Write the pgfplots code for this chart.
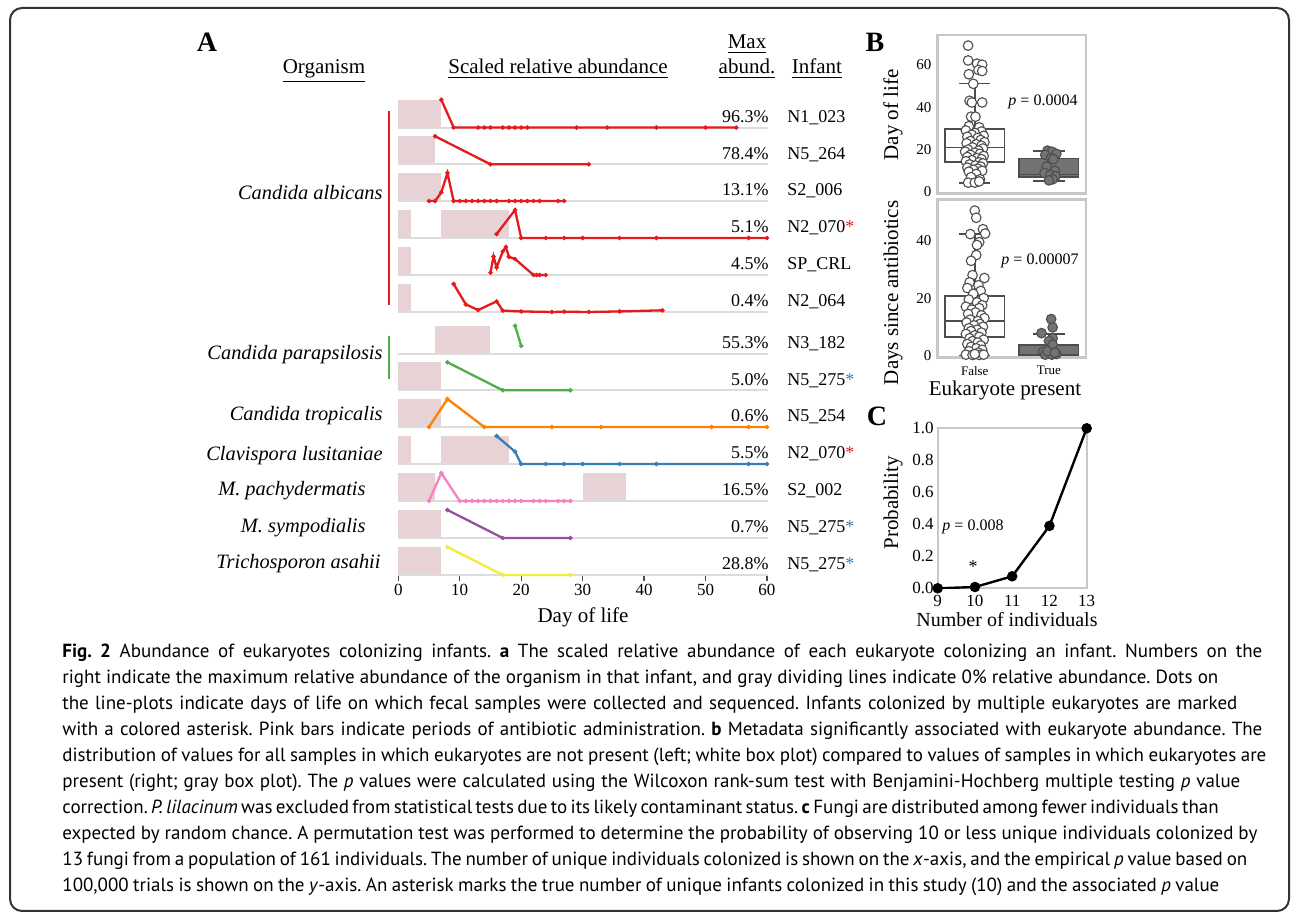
\documentclass[border=0pt]{standalone}
\usepackage{fontspec}
\setmainfont{Liberation Serif}
\newfontfamily\capfont{PT Sans}
\usepackage{pgfplots}
\pgfplotsset{compat=1.18}
\usepgfplotslibrary{statistics}

\definecolor{cred}{HTML}{E41A1C}
\definecolor{cgreen}{HTML}{4DAF4A}
\definecolor{cblue}{HTML}{377EB8}
\definecolor{corange}{HTML}{FF7F00}
\definecolor{cpink}{HTML}{F781BF}
\definecolor{cpurple}{HTML}{984EA3}
\definecolor{cyellow}{HTML}{F2EC3A}
\definecolor{abxcol}{HTML}{E7D3D5}
\definecolor{zline}{HTML}{DCDCDC}
\definecolor{framegray}{HTML}{C8C8C8}
\definecolor{boxedge}{HTML}{4D4D4D}
\definecolor{boxfill}{HTML}{737373}

\newcommand\capline[2]{\makebox[#1][s]{#2}}

\pgfplotsset{
  rowax/.style={scale only axis, width=184.35pt, height=14pt, anchor=south west,
    xmin=0, xmax=60, ymin=0, ymax=1, clip=false},
  antib/.style={fill=abxcol, draw=none},
  zero/.style={draw=zline, line width=0.9pt},
  ln/.style={draw=#1, line width=1.15pt, mark=*, mark size=0.95pt,
    mark options={fill=#1, draw=#1, line width=0.4pt}},
  bax/.style={scale only axis, width=74.15pt, height=79.15pt, anchor=south west,
    xmin=-0.5, xmax=1.5, axis line style={draw=framegray, line width=1.3pt},
    major tick length=0pt, tick style={draw=none},
    tick label style={font=\fontsize{7.5}{9}\selectfont},
    yticklabel style={inner sep=0pt, xshift=-3pt},
    /pgf/number format/assume math mode=true, clip=false},
  wpts/.style={only marks, mark=*, mark size=2.4pt,
    mark options={fill=white, draw=boxedge, line width=0.55pt}},
  gpts/.style={only marks, mark=*, mark size=2.4pt,
    mark options={fill=boxfill, draw=boxedge, line width=0.55pt}},
}

\begin{document}
\begin{tikzpicture}

% ---------------- panel A: one axis per infant row ----------------
\begin{axis}[rowax, hide axis, at={(199.15pt,-63.85pt)}]
\addplot[antib] coordinates {(0,0)(0,1)(7,1)(7,0)};
\addplot[zero] coordinates {(0,0)(60.2,0)};
\addplot[ln=cred] coordinates {(7,1)(9,0.01)(13,0.005)(14,0.005)(15,0.005)(17,0.005)(18,0.005)(19,0.005)(20,0.005)(21,0.005)(29,0.005)(34,0.005)(42,0.005)(50,0.005)(55,0.005)};
\end{axis}

\begin{axis}[rowax, hide axis, at={(199.15pt,-82.15pt)}]
\addplot[antib] coordinates {(0,0)(0,1)(6,1)(6,0)};
\addplot[zero] coordinates {(0,0)(60.2,0)};
\addplot[ln=cred] coordinates {(6,1)(15,0)(31,0)};
\end{axis}

\begin{axis}[rowax, hide axis, at={(199.15pt,-100.5pt)}]
\addplot[antib] coordinates {(0,0)(0,1)(7,1)(7,0)};
\addplot[zero] coordinates {(0,0)(60.2,0)};
\addplot[ln=cred] coordinates {(5,0)(6,0)(7,0.31)(8,1)(9,0)(10,0)(11,0)(12,0)(13,0)(14,0)(15,0)(16,0)(18,0)(19,0)(20,0)(21,0)(22,0)(23,0)(26,0)(27,0)};
\end{axis}

\begin{axis}[rowax, hide axis, at={(199.15pt,-119pt)}]
\addplot[antib] coordinates {(0,0)(0,1)(2,1)(2,0)};
\addplot[antib] coordinates {(7,0)(7,1)(18,1)(18,0)};
\addplot[zero] coordinates {(0,0)(60.2,0)};
\addplot[ln=cred] coordinates {(16,0.14)(19,1)(20,0)(24,0)(27,0)(30,0)(36,0)(42,0)(57,0)(60,0)};
\end{axis}

\begin{axis}[rowax, hide axis, at={(199.15pt,-137.5pt)}]
\addplot[antib] coordinates {(0,0)(0,1)(2,1)(2,0)};
\addplot[zero] coordinates {(0,0)(60.2,0)};
\addplot[ln=cred] coordinates {(15,0.08)(15.5,0.66)(16,0.27)(17,0.84)(17.5,1)(18,0.65)(19,0.57)(22,0)(22.5,0)(23,0)(24,0)};
\end{axis}

\begin{axis}[rowax, hide axis, at={(199.15pt,-156pt)}]
\addplot[antib] coordinates {(0,0)(0,1)(2,1)(2,0)};
\addplot[zero] coordinates {(0,0)(60.2,0)};
\addplot[ln=cred] coordinates {(9,1)(11,0.27)(13,0.07)(16,0.38)(17,0.05)(20,0.02)(25,0)(27,0.01)(31,0)(36,0.02)(43,0.06)};
\end{axis}

\begin{axis}[rowax, hide axis, at={(199.15pt,-176.85pt)}]
\addplot[antib] coordinates {(6,0)(6,1)(15,1)(15,0)};
\addplot[zero] coordinates {(0,0)(60.2,0)};
\addplot[ln=cgreen] coordinates {(19,1)(20,0.28)};
\end{axis}

\begin{axis}[rowax, hide axis, at={(199.15pt,-195.15pt)}]
\addplot[antib] coordinates {(0,0)(0,1)(7,1)(7,0)};
\addplot[zero] coordinates {(0,0)(60.2,0)};
\addplot[ln=cgreen] coordinates {(8,1)(17,0)(28,0)};
\end{axis}

\begin{axis}[rowax, hide axis, at={(199.15pt,-213.5pt)}]
\addplot[antib] coordinates {(0,0)(0,1)(7,1)(7,0)};
\addplot[zero] coordinates {(0,0)(60.2,0)};
\addplot[ln=corange] coordinates {(5,0)(8,1)(14,0)(25,0)(33,0)(51,0)(57,0)(60,0)};
\end{axis}

\begin{axis}[rowax, hide axis, at={(199.15pt,-232pt)}]
\addplot[antib] coordinates {(0,0)(0,1)(2,1)(2,0)};
\addplot[antib] coordinates {(7,0)(7,1)(18,1)(18,0)};
\addplot[zero] coordinates {(0,0)(60.2,0)};
\addplot[ln=cblue] coordinates {(16,1)(19,0.44)(20,0)(24,0)(27,0)(30,0)(36,0)(42,0)(57,0)(60,0)};
\end{axis}

\begin{axis}[rowax, hide axis, at={(199.15pt,-250.5pt)}]
\addplot[antib] coordinates {(0,0)(0,1)(6,1)(6,0)};
\addplot[antib] coordinates {(30,0)(30,1)(37,1)(37,0)};
\addplot[zero] coordinates {(0,0)(60.2,0)};
\addplot[ln=cpink] coordinates {(5,0)(7,1)(10,0)(11,0)(12,0)(13,0)(14,0)(15,0)(16,0)(17,0)(18,0)(19,0)(20,0)(22,0)(23,0)(24,0)(26,0)(27,0)(28,0)};
\end{axis}

\begin{axis}[rowax, hide axis, at={(199.15pt,-269pt)}]
\addplot[antib] coordinates {(0,0)(0,1)(7,1)(7,0)};
\addplot[zero] coordinates {(0,0)(60.2,0)};
\addplot[ln=cpurple] coordinates {(8,1)(17,0)(28,0)};
\end{axis}

\begin{axis}[rowax, at={(199.15pt,-287.5pt)},
  hide y axis, axis x line*=bottom, x axis line style={draw=none, -},
  xtick={0,10,20,30,40,50,60}, tick align=outside, major tick length=3pt,
  xtick style={draw=black!70, line width=0.6pt},
  xticklabel style={font=\fontsize{8.5}{10}\selectfont, inner sep=1.5pt},
  /pgf/number format/assume math mode=true]
\addplot[antib] coordinates {(0,0)(0,1)(7,1)(7,0)};
\addplot[zero] coordinates {(0,0)(60.2,0)};
\addplot[ln=cyellow] coordinates {(8,1)(17,0)(28,0)};
\end{axis}

% ---------------- panel B ----------------
\begin{axis}[bax, at={(468.85pt,-96.65pt)}, ymin=-0.6, ymax=74,
  ytick={0,20,40,60}, xtick=\empty]
\addplot[boxplot prepared={draw direction=y, lower whisker=4.4, lower quartile=14.3,
  median=21, upper quartile=29.6, upper whisker=51.1, draw position=0,
  box extend=0.8, whisker extend=0.42}, draw=boxedge, fill=white, line width=0.9pt] coordinates {};
\addplot[boxplot prepared={draw direction=y, lower whisker=5.3, lower quartile=7.2,
  median=8.3, upper quartile=15.8, upper whisker=19.4, draw position=1,
  box extend=0.8, whisker extend=0.42}, draw=boxedge, fill=boxfill, line width=0.9pt] coordinates {};
\addplot[wpts] coordinates {
(-0.09,69)(-0.09,62)(0.03,60.5)(0.10,60)(0.05,57.5)(-0.08,55.5)(0.10,57)(-0.02,51)
(-0.07,43)(-0.04,42.2)(0.10,42.2)(-0.05,35.5)(0.01,35.5)
(-0.08,31)(0.06,30.5)(-0.12,29)(0.09,28.5)(0.0,27.8)(-0.04,27)(0.12,26.5)(-0.10,26)
(0.04,25.5)(0.08,24.5)(-0.06,24)(0.13,23.5)(-0.11,23)(0.02,22.5)(0.09,21.8)(-0.03,21)
(0.11,20.5)(-0.09,20)(0.05,19.5)(-0.13,19)(0.0,18.5)(0.07,18)(-0.06,17.5)(0.12,17)
(-0.10,16.5)(0.03,16)(0.09,15.5)(-0.04,15)(-0.12,14.5)(0.06,14)(0.11,13.5)(-0.07,13)
(0.01,12.5)(0.08,12)(-0.10,11.5)(0.04,11)(-0.02,10.5)(0.10,10)(-0.08,9.6)(0.02,8.5)
(-0.05,7)(0.07,6)(-0.09,4.4)(0.0,4.4)(0.06,5)};
\addplot[gpts] coordinates {
(0.98,19.5)(1.04,19)(1.10,18)(0.95,17.5)(1.03,16)(1.06,15.5)(0.97,12)(1.08,10)
(0.94,9)(1.02,8)(1.09,7.5)(1.05,6)(1.0,5.5)};
\end{axis}

\begin{axis}[bax, at={(468.85pt,-178.85pt)}, ymin=-0.76, ymax=54.4,
  ytick={0,20,40}, xtick={0,1}, xticklabels={False,True},
  xticklabel style={font=\fontsize{6.5}{8}\selectfont, inner sep=0pt, yshift=-4pt}]
\addplot[boxplot prepared={draw direction=y, lower whisker=0, lower quartile=6.5,
  median=12.1, upper quartile=20.7, upper whisker=42.3, draw position=0,
  box extend=0.8, whisker extend=0.42}, draw=boxedge, fill=white, line width=0.9pt] coordinates {};
\addplot[boxplot prepared={draw direction=y, lower whisker=0, lower quartile=0,
  median=0.1, upper quartile=3.7, upper whisker=7.4, draw position=1,
  box extend=0.8, whisker extend=0.42}, draw=boxedge, fill=boxfill, line width=0.9pt] coordinates {};
\addplot[wpts] coordinates {
(0.0,50.5)(0.02,48)(0.11,44)(0.14,42.5)(-0.06,42.3)(0.06,39.5)(0.03,38.5)(0.02,35)
(-0.05,33)(-0.03,28)(0.13,27)(-0.07,25.5)(0.05,24.5)(-0.10,23.5)(0.08,22.5)(-0.02,21.5)
(0.12,20)(-0.08,19.5)(0.03,18.5)(0.10,17.5)(-0.12,17)(0.06,16.5)(-0.04,16)(0.01,15)
(-0.09,14.5)(0.09,14)(0.13,13)(-0.06,12.5)(0.04,12)(-0.11,11.5)(0.07,11)(-0.01,10.5)
(0.11,10)(-0.08,9.5)(0.03,9)(-0.05,8.5)(0.09,8)(-0.12,7.5)(0.0,7)(0.06,6.5)(-0.07,6)
(0.12,5.5)(-0.03,5)(0.04,4.5)(-0.10,4)(0.08,3.5)(-0.05,3)(0.02,2.5)(0.10,2)(-0.08,1.5)
(0.05,1)(-0.12,0.3)(-0.03,0.2)(0.06,0.2)(0.12,0.3)(0.0,0.5)};
\addplot[gpts] coordinates {
(1.03,12.7)(1.05,9.8)(0.90,7.8)(1.05,6)(1.0,5)(1.05,3.8)(0.92,1.2)(0.95,0.3)(1.04,0.3)
(1.10,0.5)(0.98,1.5)(1.08,1.0)};
\end{axis}

% ---------------- panel C ----------------
\begin{axis}[scale only axis, width=74.5pt, height=80pt, anchor=south west,
  at={(468.85pt,-294.15pt)}, xmin=9, xmax=13, ymin=0, ymax=1,
  xtick={9,10,11,12,13}, ytick={0,0.2,0.4,0.6,0.8,1},
  axis line style={draw=framegray, line width=1.1pt},
  major tick length=0pt, tick style={draw=none},
  tick label style={font=\fontsize{8.5}{10}\selectfont},
  /pgf/number format/assume math mode=true,
  y tick label style={/pgf/number format/fixed, /pgf/number format/fixed zerofill,
    /pgf/number format/precision=1, inner sep=0pt, xshift=-1.8pt},
  x tick label style={inner sep=0pt, yshift=-3.2pt}]
\addplot[black, line width=1.2pt, mark=*, mark size=2pt] coordinates {(9,0)(10,0.008)(11,0.075)(12,0.39)(13,1)};
\end{axis}

% ---------------- texts (pixel coordinates) ----------------
\begin{scope}[x=0.5pt, y=-0.5pt, every node/.style={inner sep=0pt}]
\draw[line width=1pt, draw=black!80, rounded corners=6pt] (10,8) rectangle (1289,911);

\node[font=\bfseries\fontsize{14}{14}\selectfont] at (207,42) {A};
\node[font=\bfseries\fontsize{14}{14}\selectfont] at (875,42) {B};
\node[font=\bfseries\fontsize{14}{14}\selectfont] at (877,416) {C};

\begin{scope}[every node/.append style={font=\fontsize{10.5}{12}\selectfont, anchor=base}]
\node at (324,74) {\underline{Organism}};
\node at (558,74) {\underline{Scaled relative abundance}};
\node at (747,49) {\underline{Max}};
\node at (747,74) {\underline{abund.}};
\node at (817,74) {\underline{Infant}};
\end{scope}

\begin{scope}[every node/.append style={font=\itshape\fontsize{10.2}{12}\selectfont, anchor=base east}]
\node at (383,200) {Candida albicans};
\node at (383,360) {Candida parapsilosis};
\node at (383,421) {Candida tropicalis};
\node at (383,461) {Clavispora lusitaniae};
\node at (366,496) {M. pachydermatis};
\node at (366,533) {M. sympodialis};
\node at (381,569) {Trichosporon asahii};
\end{scope}

\draw[cred, line width=1pt] (389,111) -- (389,305);
\draw[cgreen, line width=1pt] (389,336) -- (389,379);

\begin{scope}[every node/.append style={font=\fontsize{9}{11}\selectfont}]
\node[anchor=base east] at (769,122.7) {96.3\%};
\node[anchor=base east] at (769,159.3) {78.4\%};
\node[anchor=base east] at (769,196) {13.1\%};
\node[anchor=base east] at (769,233) {5.1\%};
\node[anchor=base east] at (769,270) {4.5\%};
\node[anchor=base east] at (769,307) {0.4\%};
\node[anchor=base east] at (769,348.7) {55.3\%};
\node[anchor=base east] at (769,385.3) {5.0\%};
\node[anchor=base east] at (769,422) {0.6\%};
\node[anchor=base east] at (769,459) {5.5\%};
\node[anchor=base east] at (769,496) {16.5\%};
\node[anchor=base east] at (769,533) {0.7\%};
\node[anchor=base east] at (769,570) {28.8\%};
\node[anchor=base west] at (787,122.7) {N1\_023};
\node[anchor=base west] at (787,159.3) {N5\_264};
\node[anchor=base west] at (787,196) {S2\_006};
\node[anchor=base west] at (787,233) {N2\_070\textcolor{cred}{*}};
\node[anchor=base west] at (787,270) {SP\_CRL};
\node[anchor=base west] at (787,307) {N2\_064};
\node[anchor=base west] at (787,348.7) {N3\_182};
\node[anchor=base west] at (787,385.3) {N5\_275\textcolor{cblue}{*}};
\node[anchor=base west] at (787,422) {N5\_254};
\node[anchor=base west] at (787,459) {N2\_070\textcolor{cred}{*}};
\node[anchor=base west] at (787,496) {S2\_002};
\node[anchor=base west] at (787,533) {N5\_275\textcolor{cblue}{*}};
\node[anchor=base west] at (787,570) {N5\_275\textcolor{cblue}{*}};
\end{scope}

\node[font=\fontsize{10.5}{12}\selectfont] at (583,617) {Day of life};
\node[font=\fontsize{10.5}{12}\selectfont, rotate=90] at (893,115) {Day of life};
\node[font=\fontsize{10.5}{12}\selectfont, rotate=90] at (893,293) {Days since antibiotics};
\node[font=\fontsize{10.5}{12}\selectfont] at (1005,390) {Eukaryote present};
\node[font=\fontsize{10.5}{12}\selectfont, rotate=90] at (893,503) {Probability};
\node[font=\fontsize{10}{12}\selectfont] at (1007,620) {Number of individuals};
\node[font=\fontsize{8}{10}\selectfont] at (1043,102) {\textit{p} = 0.0004};
\node[font=\fontsize{8}{10}\selectfont] at (1040,261) {\textit{p} = 0.00007};
\node[font=\fontsize{8}{10}\selectfont] at (973,527) {\textit{p} = 0.008};
\node[font=\fontsize{9}{10}\selectfont] at (973,567) {*};

\begin{scope}[every node/.append style={font=\capfont\fontsize{9.5}{12}\selectfont\frenchspacing, anchor=base west}]
\node at (62,658) {\capline{600pt}{\textbf{Fig. 2} Abundance of eukaryotes colonizing infants. \textbf{a} The scaled relative abundance of each eukaryote colonizing an infant. Numbers on the}};
\node at (62,684) {\capline{578pt}{right indicate the maximum relative abundance of the organism in that infant, and gray dividing lines indicate 0\% relative abundance. Dots on}};
\node at (62,710) {\capline{587.5pt}{the line-plots indicate days of life on which fecal samples were collected and sequenced. Infants colonized by multiple eukaryotes are marked}};
\node at (62,736) {\capline{600pt}{with a colored asterisk. Pink bars indicate periods of antibiotic administration. \textbf{b} Metadata significantly associated with eukaryote abundance. The}};
\node at (62,762) {\capline{602pt}{distribution of values for all samples in which eukaryotes are not present (left; white box plot) compared to values of samples in which eukaryotes are}};
\node at (62,788) {\capline{589pt}{present (right; gray box plot). The \textit{p} values were calculated using the Wilcoxon rank-sum test with Benjamini-Hochberg multiple testing \textit{p} value}};
\node at (62,814) {\capline{569.5pt}{correction. \textit{P. lilacinum} was excluded from statistical tests due to its likely contaminant status. \textbf{c} Fungi are distributed among fewer individuals than}};
\node at (62,840) {\capline{597.5pt}{expected by random chance. A permutation test was performed to determine the probability of observing 10 or less unique individuals colonized by}};
\node at (62,866) {\capline{592.5pt}{13 fungi from a population of 161 individuals. The number of unique individuals colonized is shown on the \textit{x}-axis, and the empirical \textit{p} value based on}};
\node at (62,892) {\capline{578.5pt}{100,000 trials is shown on the \textit{y}-axis. An asterisk marks the true number of unique infants colonized in this study (10) and the associated \textit{p} value}};
\end{scope}
\end{scope}

\pgfresetboundingbox
\path[use as bounding box] (0,0) rectangle (646pt,-456.5pt);
\end{tikzpicture}
\end{document}
